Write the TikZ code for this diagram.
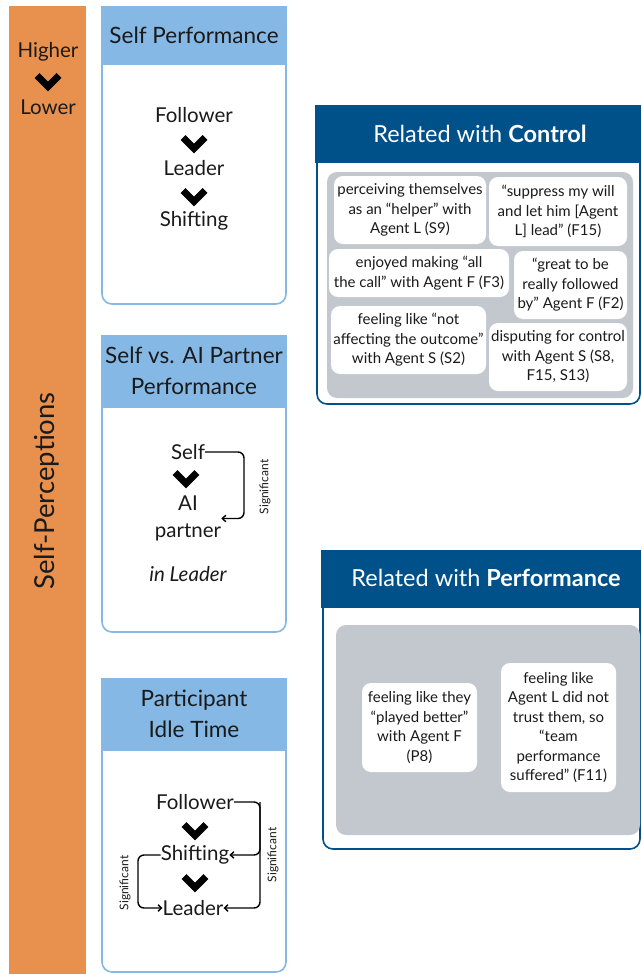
\documentclass[tikz,border=0pt]{standalone}
\usepackage{fontspec}
\setmainfont{Lato}
\usetikzlibrary{arrows.meta,calc}
\definecolor{orangebar}{HTML}{E8914F}
\definecolor{lightblue}{HTML}{85B8E5}
\definecolor{darkblue}{HTML}{00508A}
\definecolor{panelgray}{HTML}{C3C8CE}
\definecolor{txt}{HTML}{1A1A1A}
\begin{document}
\begin{tikzpicture}[x=1pt,y=-1pt,
  every node/.style={text=txt, inner sep=0pt},
  title/.style={font=\fontsize{22.5}{31}\selectfont, align=center},
  item/.style={font=\fontsize{20.5}{27}\selectfont, align=center},
  sigtext/.style={font=\fontsize{12}{14}\selectfont, rotate=90},
  sig/.style={line width=1.4pt, rounded corners=6pt, -{Straight Barb[length=3.5pt,width=6.5pt]}},
  boxborder/.style={draw=lightblue, line width=1.6pt, rounded corners=10pt},
  panelborder/.style={draw=darkblue, line width=1.6pt, rounded corners=10pt},
  note/.style={fill=white, rounded corners=9pt, align=center, font=\fontsize{15}{19.5}\selectfont},
  paneltitle/.style={text=white, font=\fontsize{23.5}{28}\selectfont},
  chev/.pic={\draw[line width=7pt, line join=miter, black] (-11,-5.5) -- (0,5.5) -- (11,-5.5);}
]
\useasboundingbox (0,0) rectangle (641,974);

% left bar
\fill[orangebar] (9,6) rectangle (86,974);
\node[item] (hi) at (48,52) {Higher};
\node[item] (lo) at (48,107) {Lower};
\pic at (48,81) {chev};
\node[font=\fontsize{27.5}{30}\selectfont, rotate=90] (sp) at (47,491) {Self-Perceptions};

% box 1
\draw[boxborder] (102,60) -- (102,304) -- (286,304) -- (286,60);
\fill[lightblue] (101,6) rectangle (287,65);
\node[title] (t1) at (194,35) {Self Performance};
\node[item] (f1) at (194,115) {Follower};
\pic at (194,143) {chev};
\node[item] (l1) at (194,168) {Leader};
\pic at (194,196) {chev};
\node[item] (s1) at (194,221) {Shifting};

% box 2
\draw[boxborder] (102,400) -- (102,632) -- (286,632) -- (286,400);
\fill[lightblue] (101,335) rectangle (287,408);
\node[title] (t2) at (194,371) {Self vs. AI Partner\\Performance};
\node[item] (self) at (188,452) {Self};
\pic at (186,478) {chev};
\node[item] (aip) at (188,518.5) {AI\\partner};
\node[item, font=\fontsize{20.5}{27}\selectfont\itshape] (inl) at (188,574) {in Leader};
\coordinate (r2) at (244,0);
\draw[sig] (self.east) -- (self.east -| r2) |- (aip.east);
\node[sigtext] (sg1) at (265,487) {Significant};

% box 3
\draw[boxborder] (102,740) -- (102,972) -- (286,972) -- (286,740);
\fill[lightblue] (101,678) rectangle (287,751);
\node[title] (t3) at (194,714) {Participant\\Idle Time};
\node[item] (f3) at (195,802) {Follower};
\pic at (195,830) {chev};
\node[item] (s3) at (195,855) {Shifting};
\pic at (195,882) {chev};
\node[item] (l3) at (193,908) {Leader};
\coordinate (r3) at (260,0);
\coordinate (q3) at (138,0);
\draw[sig] (f3.east) -- (f3.east -| r3) |- (s3.east);
\draw[sig] (f3.east -| r3) |- (l3.east);
\draw[sig] (s3.west) -- (s3.west -| q3) |- (l3.west);
\node[sigtext] (sg2) at (273,855) {Significant};
\node[sigtext] (sg3) at (125,883) {Significant};

% control panel
\draw[panelborder] (317,150) -- (317,404) -- (640,404) -- (640,150);
\fill[darkblue] (315,105) rectangle (641,163);
\node[paneltitle] (ct) at (480,134) {Related with \textbf{Control}};
\fill[panelgray, rounded corners=10pt] (327,172) rectangle (633,398);
\node[note, minimum width=152pt, minimum height=68pt] (c1) at (410,210) {perceiving themselves\\as an “helper” with\\Agent L (S9)};
\node[note, minimum width=138pt, minimum height=69pt] (c2) at (558,211.5) {“suppress my will\\and let him [Agent\\L] lead” (F15)};
\node[note, minimum width=180pt, minimum height=48pt] (c3) at (419,273) {enjoyed making “all\\the call” with Agent F (F3)};
\node[note, minimum width=113pt, minimum height=68pt] (c4) at (570.5,285) {“great to be\\really followed\\by” Agent F (F2)};
\node[note, minimum width=155pt, minimum height=68pt] (c5) at (408.5,340) {feeling like “not\\affecting the outcome”\\with Agent S (S2)};
\node[note, minimum width=138pt, minimum height=68pt] (c6) at (558,357) {disputing for control\\with Agent S (S8,\\F15, S13)};

% performance panel
\draw[panelborder] (323,595) -- (323,849) -- (640,849) -- (640,595);
\fill[darkblue] (321,550) rectangle (641,608);
\node[paneltitle] (pt) at (486,578) {Related with \textbf{Performance}};
\fill[panelgray, rounded corners=10pt] (336,625) rectangle (640,835);
\node[note, minimum width=115pt, minimum height=89pt] (p1) at (419.5,727.5) {feeling like they\\“played better”\\with Agent F\\(P8)};
\node[note, minimum width=115pt, minimum height=129pt] (p2) at (558.5,727.5) {feeling like\\Agent L did not\\trust them, so\\“team\\performance\\suffered” (F11)};
\end{tikzpicture}
\end{document}
